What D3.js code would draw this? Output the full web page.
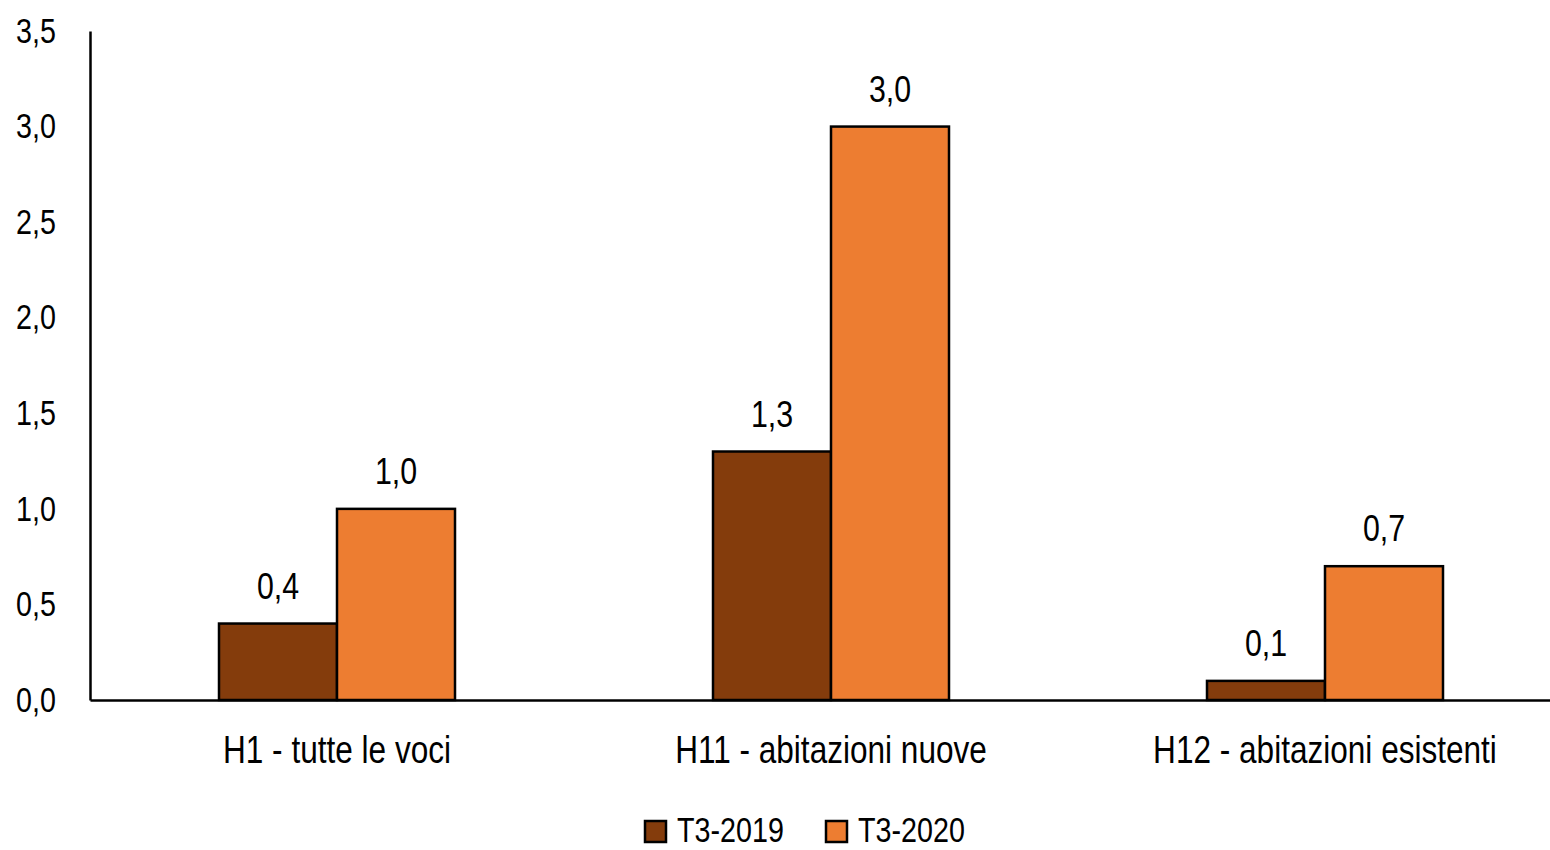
<!DOCTYPE html>
<html><head><meta charset="utf-8">
<script src="https://cdn.jsdelivr.net/npm/d3@7/dist/d3.min.js"></script>
<style>
body{margin:0;background:#fff;}
text{font-family:"Liberation Sans",Arial,sans-serif;fill:#000;}
</style></head>
<body><svg id="c" width="1550" height="850"></svg>
<script>
const categories = ["H1 - tutte le voci", "H11 - abitazioni nuove", "H12 - abitazioni esistenti"];
const seriesNames = ["T3-2019", "T3-2020"];
const values2019 = [0.4, 1.3, 0.1];
const values2020 = [1.0, 3.0, 0.7];
const yTicks = [0, 0.5, 1.0, 1.5, 2.0, 2.5, 3.0, 3.5];
const colors = ["#843C0C", "#ED7D31"];

const NARROW = 0.82;
const svg = d3.select("#c");
const mLeft = 90, mRight = 1572, mTop = 31, mBottom = 700;
const x0 = d3.scaleBand().domain(categories).range([mLeft, mRight]).paddingInner(0).paddingOuter(0);
const x1 = d3.scaleBand().domain(seriesNames).range([0, 236]);
const y = d3.scaleLinear().domain([0, 3.5]).range([mBottom, mTop]);
const fmt = v => d3.format(".1f")(v).replace(".", ",");

const data = categories.map((c, i) => ({cat: c, vals: [values2019[i], values2020[i]]}));

const g = svg.append("g");
data.forEach(d => {
  const gx = x0(d.cat) + x0.bandwidth() / 2 - 118;
  d.vals.forEach((v, j) => {
    const s = seriesNames[j];
    g.append("rect")
      .attr("x", gx + x1(s)).attr("y", y(v))
      .attr("width", x1.bandwidth()).attr("height", y(0) - y(v))
      .attr("fill", colors[j]).attr("stroke", "#000").attr("stroke-width", 2.5);
    g.append("text").attr("class", "nar")
      .attr("x", gx + x1(s) + x1.bandwidth() / 2).attr("y", y(v) - 25)
      .attr("text-anchor", "middle").attr("font-size", 37)
      .text(fmt(v));
  });
});

// y axis
const yAxis = d3.axisLeft(y).tickValues(yTicks).tickSize(0).tickPadding(34).tickFormat(fmt);
const ya = svg.append("g").attr("transform", `translate(${mLeft},0)`).call(yAxis);
ya.select(".domain").attr("stroke", "#000").attr("stroke-width", 2.5);
ya.selectAll("text").attr("font-size", 35).attr("font-family", null).attr("fill", "#000").attr("class", "nar");

// x axis
const xAxis = d3.axisBottom(x0).tickSize(0).tickPadding(36);
const xa = svg.append("g").attr("transform", `translate(0,${mBottom})`).call(xAxis);
xa.select(".domain").attr("stroke", "#000").attr("stroke-width", 2.5);
xa.selectAll("text").attr("font-size", 38.5).attr("font-family", null).attr("fill", "#000").attr("class", "nar");

// legend
const legendX = [645, 826];
seriesNames.forEach((s, j) => {
  svg.append("rect").attr("x", legendX[j]).attr("y", 821).attr("width", 21).attr("height", 21)
    .attr("fill", colors[j]).attr("stroke", "#000").attr("stroke-width", 2.5);
  svg.append("text").attr("class", "nar").attr("x", legendX[j] + 32).attr("y", 842).attr("font-size", 35).text(s);
});

// narrow-font emulation: horizontal compression around each text's anchor point
svg.selectAll("text.nar").each(function() {
  const t = d3.select(this);
  const x = +t.attr("x") || 0, yy = +t.attr("y") || 0;
  t.attr("x", 0).attr("y", 0).attr("transform", `translate(${x},${yy}) scale(${NARROW},1)`);
});
</script></body></html>
